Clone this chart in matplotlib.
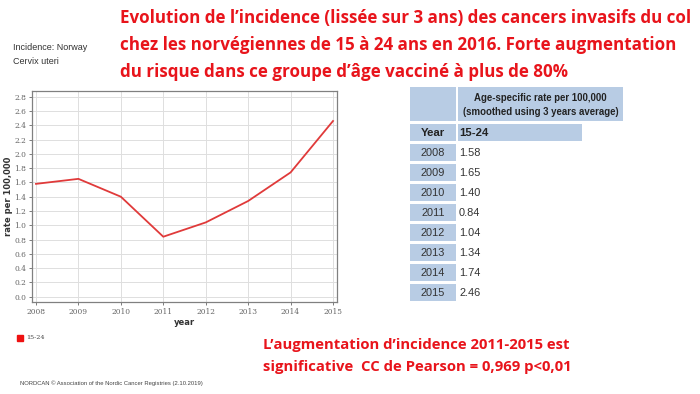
import matplotlib
matplotlib.use("Agg")
from matplotlib import pyplot as plt
from matplotlib.patches import Rectangle

years = [2008, 2009, 2010, 2011, 2012, 2013, 2014, 2015]
rates = [1.58, 1.65, 1.40, 0.84, 1.04, 1.34, 1.74, 2.46]
rate_labels = ["1.58", "1.65", "1.40", "0.84", "1.04", "1.34", "1.74", "2.46"]
yticks = [0.0, 0.2, 0.4, 0.6, 0.8, 1.0, 1.2, 1.4, 1.6, 1.8, 2.0, 2.2, 2.4, 2.6, 2.8]

title_lines = [
    "Evolution de l\u2019incidence (lissée sur 3 ans) des cancers invasifs du col",
    "chez les norvégiennes de 15 à 24 ans en 2016. Forte augmentation",
    "du risque dans ce groupe d\u2019âge vacciné à plus de 80%",
]
note_lines = [
    "L\u2019augmentation d\u2019incidence 2011-2015 est",
    "significative  CC de Pearson = 0,969 p<0,01",
]

W, H = 700, 394
fig = plt.figure(figsize=(7, 3.94), dpi=100)
fig.patch.set_facecolor("white")

def fx(x):
    return x / W

def fy(y):
    return 1 - y / H

red = "#e8141b"
sans = ["Liberation Sans", "DejaVu Sans"]
bold_font = ["Open Sans", "DejaVu Sans"]

# chart
ax = fig.add_axes([fx(32), fy(302), fx(337) - fx(32), fy(91) - fy(302)])
ax.plot(years, rates, color="#e03a3a", linewidth=1.3)
ax.set_xlim(2007.906, 2015.094)
ax.set_ylim(-0.074, 2.88)
ax.set_xticks(years)
ax.set_yticks(yticks)
ax.set_yticklabels(["%.1f" % v for v in yticks])
ax.grid(True, color="#dedede", linewidth=0.7)
ax.set_axisbelow(True)
for s in ax.spines.values():
    s.set_color("#808080")
    s.set_linewidth(0.9)
ax.tick_params(labelsize=5.4, colors="#666666", length=2.5, width=0.6, pad=1.5)
for lbl in ax.get_xticklabels() + ax.get_yticklabels():
    lbl.set_family("DejaVu Serif")
ax.set_ylabel("rate per 100,000", fontsize=6, fontweight="bold", color="#333333", labelpad=1)
ax.set_xlabel("year", fontsize=6, fontweight="bold", color="#333333", labelpad=2)

# chart header
fig.text(fx(13), fy(47), "Incidence: Norway", fontsize=6.5, color="#333333", va="center", family=sans)
fig.text(fx(13), fy(62), "Cervix uteri", fontsize=6.5, color="#333333", va="center", family=sans)

# legend
fig.add_artist(Rectangle((fx(17), fy(341)), fx(6), 6 / H, transform=fig.transFigure, color="#ee1111"))
fig.text(fx(26), fy(337.5), "15-24", fontsize=4.6, color="#444444", va="center", family="DejaVu Serif")

fig.text(fx(20), fy(383), "NORDCAN \u00a9 Association of the Nordic Cancer Registries (2.10.2019)",
         fontsize=4.2, color="#444444", va="center", family=sans)

renderer = fig.canvas.get_renderer()

def fit(t, width):
    w = t.get_window_extent(renderer).width
    t.set_fontsize(t.get_fontsize() * width / w)
    return t.get_fontsize()

# table
blue = "#b8cce4"

def cell(x0, y0, x1, y1, color=blue):
    fig.add_artist(Rectangle((fx(x0), fy(y1)), fx(x1) - fx(x0), (y1 - y0) / H,
                             transform=fig.transFigure, color=color, lw=0))

cell(410, 87, 456, 121)
cell(458, 87, 623, 121)
h1 = fig.text(fx(540), fy(98), "Age-specific rate per 100,000", fontsize=7, fontweight="bold",
              ha="center", va="center", color="#222222", family=sans)
h2 = fig.text(fx(541), fy(112), "(smoothed using 3 years average)", fontsize=7, fontweight="bold",
              ha="center", va="center", color="#222222", family=sans)
hs = fit(h2, 157)
h1.set_fontsize(hs)
cell(410, 124, 456, 141)
cell(458, 124, 582, 141)
fig.text(fx(433), fy(133), "Year", fontsize=8.2, fontweight="bold", ha="center", va="center",
         color="#222222", family=sans)
fig.text(fx(459), fy(133), "15-24", fontsize=8.2, fontweight="bold", ha="left", va="center",
         color="#222222", family=sans)
for i, (yr, lab) in enumerate(zip(years, rate_labels)):
    top = 144 + 20 * i
    cell(410, top, 456, top + 17)
    fig.text(fx(433), fy(top + 9), str(yr), fontsize=7.9, ha="center", va="center",
             color="#333333", family=sans)
    fig.text(fx(459), fy(top + 9), lab, fontsize=7.9, ha="left", va="center",
             color="#333333", family=sans)

# red texts, sized to fit the widths in the reference
t = fig.text(fx(120), fy(18), title_lines[0], fontsize=15, fontweight="bold", color=red,
             va="center", family=bold_font)
ts = fit(t, 573)
for y, s in [(45, title_lines[1]), (72, title_lines[2])]:
    fig.text(fx(120), fy(y), s, fontsize=ts, fontweight="bold", color=red, va="center", family=bold_font)

n = fig.text(fx(263), fy(345), note_lines[0], fontsize=12, fontweight="bold", color=red,
             va="center", family=bold_font)
ns = fit(n, 307)
fig.text(fx(263), fy(367), note_lines[1], fontsize=ns, fontweight="bold", color=red,
         va="center", family=bold_font)

fig.savefig("out.png", dpi=100)
